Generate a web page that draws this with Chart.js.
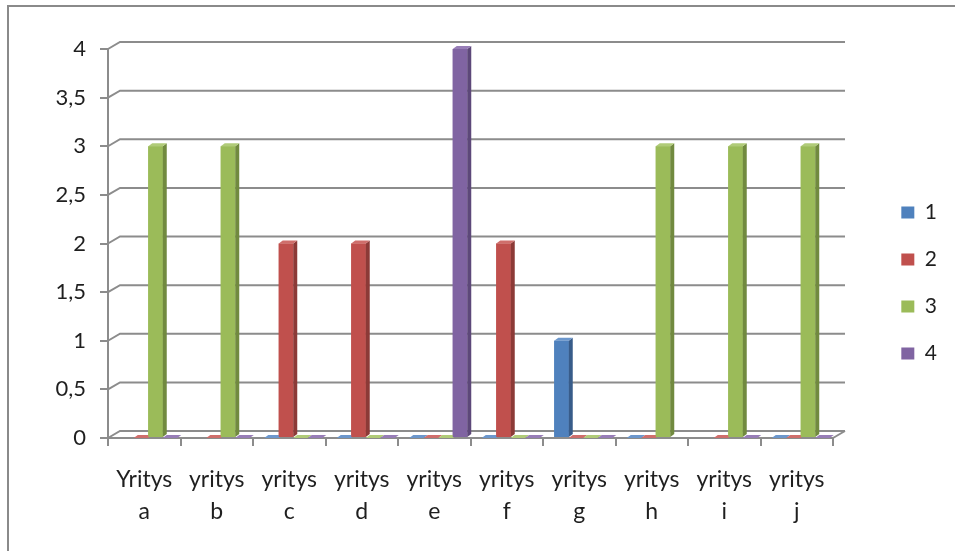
<!DOCTYPE html>
<html><head><meta charset="utf-8">
<script src="https://cdn.jsdelivr.net/npm/chart.js@4/dist/chart.umd.min.js"></script>
<style>
html,body{margin:0;padding:0;background:#fff;}
#wrap{position:relative;width:955px;height:551px;overflow:hidden;}
#frame{position:absolute;left:7px;top:5px;width:960px;height:560px;border-top:2px solid #8a8a8a;border-left:2px solid #8a8a8a;pointer-events:none;}
canvas{position:absolute;left:0;top:0;}
</style></head><body>
<div id="wrap"><canvas id="c" width="955" height="551"></canvas><div id="frame"></div></div>
<script>
const categories = [["Yritys","a"],["yritys","b"],["yritys","c"],["yritys","d"],["yritys","e"],["yritys","f"],["yritys","g"],["yritys","h"],["yritys","i"],["yritys","j"]];
const seriesNames = ["1","2","3","4"];
const series1 = [null,null,0,0,0,0,1,0,null,0];
const series2 = [0,0,2,2,0,2,0,0,0,0];
const series3 = [3,3,0,0,0,0,0,3,3,3];
const series4 = [0,0,0,0,4,0,0,null,0,0];
const yMin = 0, yMax = 4, yStep = 0.5;

const frontColors = ["#4F81BD","#C0504D","#9BBB59","#8064A2"];
const sideColors  = ["#385C8A","#8C3A37","#718A3F","#5D4879"];
const topColors   = ["#6C97CC","#CF6E6B","#B0CB78","#977DB7"];

const PLOT_LEFT = 108, PLOT_RIGHT = 833, PAD_L = 10, PAD_R = 8, PAD_B = 34;
const BAR_DX = 4, BAR_DY = -3, WALL_DX = 12, WALL_DY = -7, BAR_SHIFT = 4;
const GRID = "#8c8c8c";
const TEXT = "#1f1f1f";

Chart.defaults.font.family = "Lato, 'Open Sans', sans-serif";

const threeD = {
  id: 'threeD',
  afterLayout(chart) {
    const s = chart.scales.xb;
    s.left += BAR_SHIFT; s.right += BAR_SHIFT; s.configure();
    chart.scales.x.bottom += PAD_B;
  },
  beforeDatasetsDraw(chart) {
    const ctx = chart.ctx, ys = chart.scales.y, a = chart.chartArea;
    ctx.save();
    ctx.strokeStyle = GRID; ctx.lineWidth = 2;
    ys.ticks.forEach(t => {
      const y = ys.getPixelForValue(t.value);
      ctx.beginPath();
      ctx.moveTo(a.left, y);
      ctx.lineTo(a.left + WALL_DX, y + WALL_DY);
      ctx.lineTo(a.right + WALL_DX, y + WALL_DY);
      ctx.stroke();
    });
    ctx.beginPath();
    ctx.moveTo(a.right, a.bottom);
    ctx.lineTo(a.right + WALL_DX, a.bottom + WALL_DY);
    ctx.stroke();
    ctx.restore();
  },
  afterDatasetsDraw(chart) {
    const ctx = chart.ctx;
    const n = chart.data.labels.length;
    ctx.save();
    for (let j = 0; j < n; j++) {
      chart.data.datasets.forEach((ds, i) => {
        const v = ds.data[j];
        if (v === null || v === undefined) return;
        const el = chart.getDatasetMeta(i).data[j];
        const p = el.getProps(['x','y','base','width'], true);
        const l = p.x - p.width/2, r = p.x + p.width/2;
        const top = Math.min(p.y, p.base), bot = Math.max(p.y, p.base);
        if (bot - top > 0) { ctx.fillStyle = frontColors[i]; ctx.fillRect(l, top, r - l, bot - top); }
        ctx.fillStyle = sideColors[i];
        ctx.beginPath();
        ctx.moveTo(r, top); ctx.lineTo(r + BAR_DX, top + BAR_DY);
        ctx.lineTo(r + BAR_DX, bot + BAR_DY); ctx.lineTo(r, bot); ctx.closePath(); ctx.fill();
        ctx.fillStyle = topColors[i];
        ctx.beginPath();
        ctx.moveTo(l, top); ctx.lineTo(r, top);
        ctx.lineTo(r + BAR_DX, top + BAR_DY); ctx.lineTo(l + BAR_DX, top + BAR_DY); ctx.closePath(); ctx.fill();
      });
    }
    ctx.restore();
  }
};

const allSeries = [series1, series2, series3, series4];
new Chart(document.getElementById('c'), {
  type: 'bar',
  data: {
    labels: categories,
    datasets: allSeries.map((d, i) => ({
      label: seriesNames[i], data: d,
      backgroundColor: frontColors[i], borderWidth: 0,
      xAxisID: 'xb', yAxisID: 'y',
      categoryPercentage: 0.8, barPercentage: 1.0
    }))
  },
  options: {
    responsive: false, animation: false,
    layout: { padding: { left: PAD_L, right: PAD_R, top: 49, bottom: PAD_B } },
    plugins: {
      legend: {
        position: 'right', align: 'center',
        labels: { boxWidth: 13, boxHeight: 12, padding: 26, color: TEXT, font: { size: 21 } }
      },
      tooltip: { enabled: false }
    },
    scales: {
      x: {
        type: 'category', offset: true, position: 'bottom',
        grid: { offset: true, drawOnChartArea: false, drawTicks: true, tickLength: 8, color: GRID, lineWidth: 2 },
        border: { display: true, color: GRID, width: 2 },
        ticks: { color: TEXT, padding: 17, maxRotation: 0, autoSkip: false, font: { size: 23, lineHeight: 1.4 } },
        afterFit: s => { s.height = 79; }
      },
      xb: { type: 'category', offset: true, display: false, grid: { offset: true } },
      y: {
        position: 'left', min: yMin, max: yMax,
        grid: { drawOnChartArea: false, drawTicks: true, tickLength: 8, color: GRID, lineWidth: 2 },
        border: { display: true, color: GRID, width: 2 },
        ticks: { stepSize: yStep, color: TEXT, padding: 14, font: { size: 22 },
          callback: v => String(v).replace('.', ',') },
        afterFit: s => { s.width = PLOT_LEFT - PAD_L; }
      },
      y2: {
        position: 'right', display: true,
        grid: { display: false }, border: { display: false }, ticks: { display: false },
        afterFit: s => { const lg = s.chart.legend; s.width = Math.max(0, s.chart.width - PAD_R - (lg ? lg.width : 0) - PLOT_RIGHT); }
      }
    }
  },
  plugins: [threeD]
});
</script>
</body></html>
